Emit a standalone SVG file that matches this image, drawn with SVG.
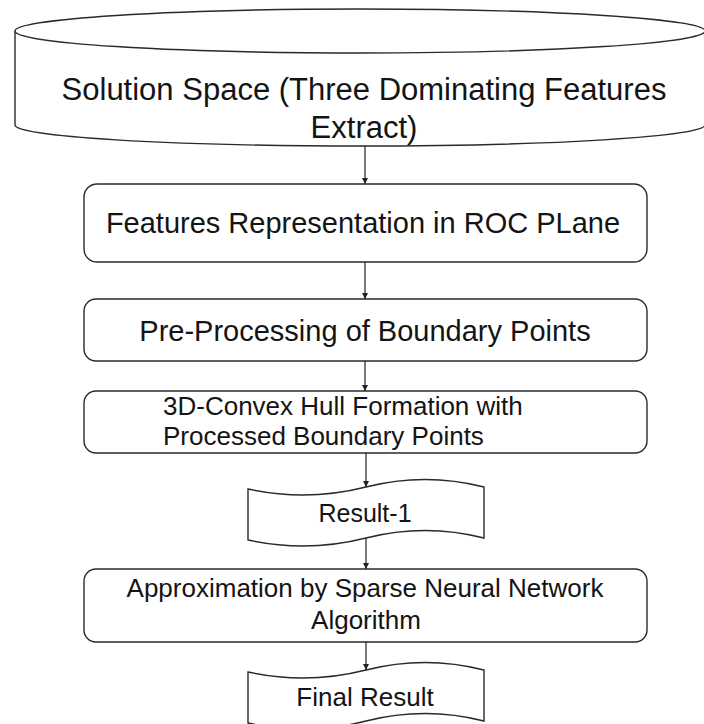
<svg xmlns="http://www.w3.org/2000/svg" width="704" height="724" viewBox="0 0 704 724">
<defs>
<style>
.shape{fill:#fff;stroke:#2a2a2a;stroke-width:1.4}
.t{font-family:"Liberation Sans",Arial,sans-serif;fill:#141414;text-anchor:middle}
.edge{stroke:#222;stroke-width:1.2;fill:none}
</style>
<marker id="ah" viewBox="0 0 10 10" refX="10" refY="5" markerWidth="6" markerHeight="7" markerUnits="userSpaceOnUse" orient="auto">
<path d="M0,0 L10,5 L0,10 z" fill="#222"/>
</marker>
</defs>
<rect width="704" height="724" fill="#fff"/>
<g id="n-solution-space">
<path class="shape" d="M15,31 L15,125 A345,21 0 0 0 705,125 L705,31"/>
<ellipse class="shape" cx="360" cy="31" rx="345" ry="22"/>
<text class="t" x="364" y="100" font-size="31">Solution Space (Three Dominating Features</text>
<text class="t" x="364" y="138" font-size="31">Extract)</text>
</g>
<g id="n-features">
<rect class="shape" x="84" y="184" width="563" height="78" rx="13"/>
<text class="t" x="363" y="233" font-size="29">Features Representation in ROC PLane</text>
</g>
<g id="n-preprocessing">
<rect class="shape" x="84" y="299" width="563" height="62" rx="12"/>
<text class="t" x="365" y="341" font-size="29">Pre-Processing of Boundary Points</text>
</g>
<g id="n-convex-hull">
<rect class="shape" x="84" y="391" width="563" height="62" rx="12"/>
<text x="163" y="415" font-size="26" font-family="Liberation Sans, Arial, sans-serif" fill="#141414">3D-Convex Hull Formation with</text>
<text x="163" y="445" font-size="26" font-family="Liberation Sans, Arial, sans-serif" fill="#141414">Processed Boundary Points</text>
</g>
<g id="n-result1">
<path class="shape" d="M248,489 Q307,502 366,487 Q425,472 484,487 L484,538 Q425,523 366,538 Q307,553 248,540 Z"/>
<text class="t" x="365" y="522" font-size="25">Result-1</text>
</g>
<g id="n-approximation">
<rect class="shape" x="84" y="569" width="563" height="73" rx="12"/>
<text class="t" x="365" y="597" font-size="26">Approximation by Sparse Neural Network</text>
<text class="t" x="366" y="629" font-size="26">Algorithm</text>
</g>
<g id="n-final">
<path class="shape" d="M248,672 Q307,685 366,670 Q425,655 484,670 L484,721 Q425,706 366,721 Q307,736 248,723 Z"/>
<text class="t" x="365" y="706" font-size="26">Final Result</text>
</g>
<g id="connectors">
<line class="edge" x1="365" y1="146" x2="365" y2="184" marker-end="url(#ah)"/>
<line class="edge" x1="365" y1="262" x2="365" y2="299" marker-end="url(#ah)"/>
<line class="edge" x1="365" y1="361" x2="365" y2="391" marker-end="url(#ah)"/>
<line class="edge" x1="366" y1="453" x2="366" y2="487" marker-end="url(#ah)"/>
<line class="edge" x1="366" y1="538" x2="366" y2="569" marker-end="url(#ah)"/>
<line class="edge" x1="366" y1="642" x2="366" y2="670" marker-end="url(#ah)"/>
</g>
</svg>
